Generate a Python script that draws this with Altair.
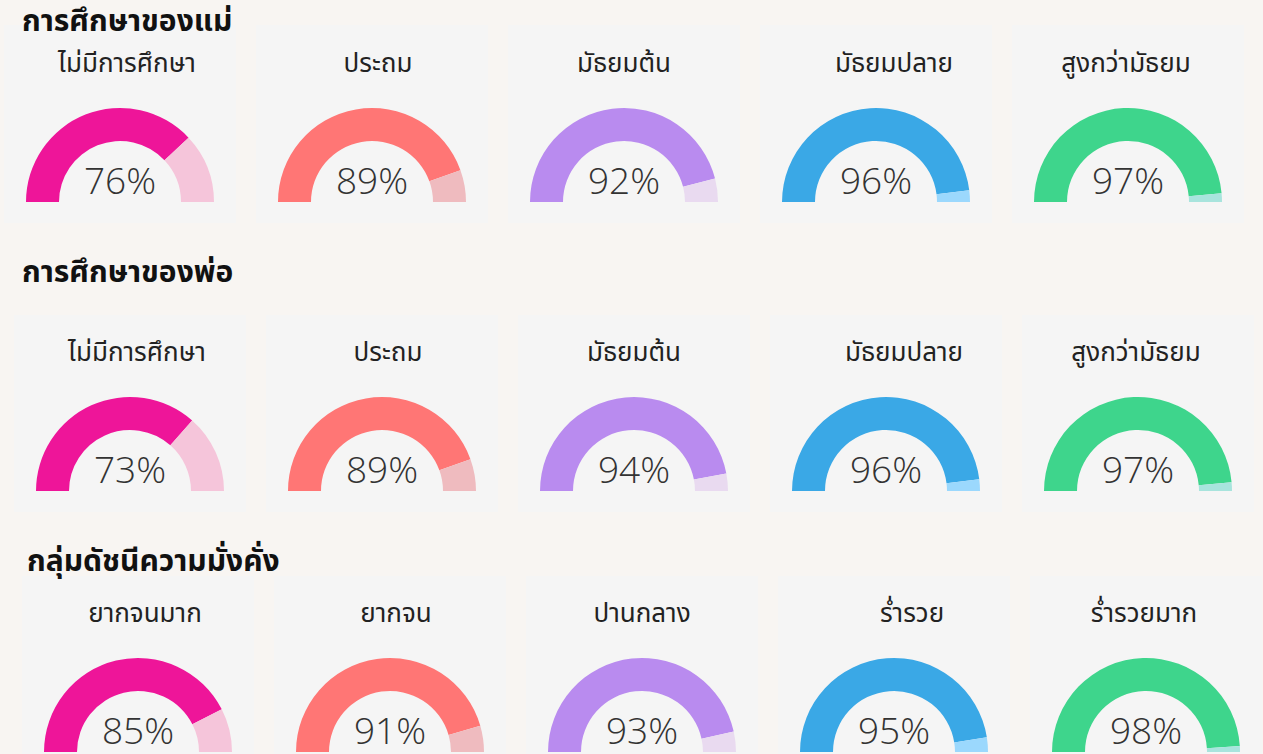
import math
import altair as alt
import pandas as pd

# ---------------- data ----------------
sections = ["การศึกษาของแม่", "การศึกษาของพ่อ", "กลุ่มดัชนีความมั่งคั่ง"]
edu_labels = ["ไม่มีการศึกษา", "ประถม", "มัธยมต้น", "มัธยมปลาย", "สูงกว่ามัธยม"]
wealth_labels = ["ยากจนมาก", "ยากจน", "ปานกลาง", "ร่ำรวย", "ร่ำรวยมาก"]
mother_values = [76, 89, 92, 96, 97]
father_values = [73, 89, 94, 96, 97]
wealth_values = [85, 91, 93, 95, 98]
main_colors = ["#EE1599", "#FF7675", "#B98BEF", "#3AA8E6", "#3ED58C"]
light_colors = ["#F5C5DA", "#EFBBBF", "#E9DAF0", "#9BD8FD", "#A8E4DD"]

# ---------------- layout (pixels) ----------------
W, H = 1263, 754
row_cy = [202, 491, 752]
row_cx0 = [120, 130, 138]
col_step = 252
label_dx = [7, 6, 0, 18, -2]
row_panel = [(25, 223), (315, 512), (576, 770)]
title_pos = [(22, 31), (22, 282), (27, 571)]

rows = [
    (edu_labels, mother_values),
    (edu_labels, father_values),
    (wealth_labels, wealth_values),
]

seg_recs, gauge_recs, panel_recs = [], [], []
for r, (labels, values) in enumerate(rows):
    for c, (lab, v) in enumerate(zip(labels, values)):
        cx = row_cx0[r] + col_step * c
        cy = row_cy[r]
        seg_recs.append(dict(cx=cx, cy=cy, start=0, end=v, color=main_colors[c]))
        seg_recs.append(dict(cx=cx, cy=cy, start=v, end=100, color=light_colors[c]))
        gauge_recs.append(dict(cx=cx, cy=cy, lx=cx + label_dx[c], ly=cy - 138,
                               py=cy - 8, label=lab, pct=f"{v}%"))
        panel_recs.append(dict(x0=cx - 116, x1=cx + 116,
                               y0=row_panel[r][0], y1=row_panel[r][1]))

title_recs = [dict(x=title_pos[i][0], y=title_pos[i][1], t=s) for i, s in enumerate(sections)]

seg_df = pd.DataFrame(seg_recs)
gauge_df = pd.DataFrame(gauge_recs)
panel_df = pd.DataFrame(panel_recs)
title_df = pd.DataFrame(title_recs)

xs = alt.Scale(domain=[0, W], range=[0, W])
ys = alt.Scale(domain=[0, H], range=[0, H])
THAI = "Noto Sans Thai, Noto Sans Thai UI, Noto Sans, sans-serif"

panels = alt.Chart(panel_df).mark_rect(color="#F5F5F5").encode(
    x=alt.X("x0:Q", scale=xs, axis=None),
    x2="x1:Q",
    y=alt.Y("y0:Q", scale=ys, axis=None),
    y2="y1:Q",
)

arcs = alt.Chart(seg_df).mark_arc(innerRadius=61, outerRadius=94).encode(
    x=alt.X("cx:Q", scale=xs, axis=None),
    y=alt.Y("cy:Q", scale=ys, axis=None),
    theta=alt.Theta("start:Q", stack=False,
                    scale=alt.Scale(domain=[0, 100], range=[-math.pi / 2, math.pi / 2])),
    theta2="end:Q",
    color=alt.Color("color:N", scale=None),
)

pct = alt.Chart(gauge_df).mark_text(
    font="Open Sans", fontSize=37, fontWeight=300, color="#333333",
    align="center", baseline="alphabetic",
).encode(
    x=alt.X("cx:Q", scale=xs, axis=None),
    y=alt.Y("py:Q", scale=ys, axis=None),
    text="pct:N",
)

cat = alt.Chart(gauge_df).mark_text(
    font=THAI, fontSize=26, color="#222222", align="center", baseline="middle",
).encode(
    x=alt.X("lx:Q", scale=xs, axis=None),
    y=alt.Y("ly:Q", scale=ys, axis=None),
    text="label:N",
)

titles = alt.Chart(title_df).mark_text(
    font=THAI, fontSize=30, fontWeight="bold", color="#111111",
    align="left", baseline="alphabetic",
).encode(
    x=alt.X("x:Q", scale=xs, axis=None),
    y=alt.Y("y:Q", scale=ys, axis=None),
    text="t:N",
)

chart = alt.layer(panels, arcs, pct, cat, titles).properties(
    width=W, height=H, padding=0,
    autosize=alt.AutoSizeParams(type="none"),
    background="#F8F5F2",
).configure_view(strokeWidth=0)

chart.save("out.html", embed_options={"renderer": "svg", "actions": False})
